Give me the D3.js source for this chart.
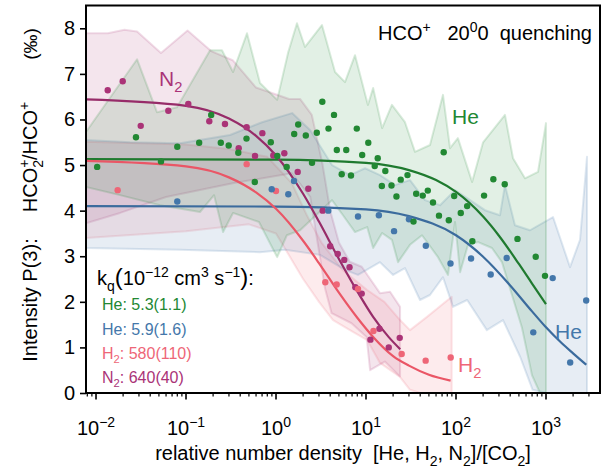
<!DOCTYPE html>
<html><head><meta charset="utf-8">
<script src="https://cdn.jsdelivr.net/npm/d3@7"></script>
<style>body{margin:0;background:#fff} text{font-family:"Liberation Sans",Arial,sans-serif;white-space:pre}</style>
</head><body><svg id="c" width="612" height="470"></svg>
<script>
// ---------- data ----------
const heGreenX = [0.0103,0.0278,0.0527,0.080,0.140,0.1905,0.2436,0.298,0.381,0.470,0.581,0.875,1.034,1.315,1.593,1.765,2.143,2.512,2.84,3.27,3.83,4.41,4.74,5.37,6.03,6.81,7.90,9.07,10.6,12.5,13.5,15.0,16.4,19.2,21.8,24.3,28.9,33.7,36.1,42.7,48.6,55.5,64.7,73.0,83.2,95.5,113,133,152,205,260,348,482,769,975];
const heGreenY = [4.96,5.61,5.08,5.40,5.49,6.10,5.49,5.43,5.27,5.58,4.63,5.50,5.20,4.96,5.68,5.89,5.65,5.05,5.71,6.39,5.80,6.10,5.33,4.80,5.33,4.77,5.80,5.22,5.49,4.98,5.15,4.54,4.87,4.55,4.31,4.68,4.78,3.76,4.37,4.33,4.44,4.18,3.89,5.28,3.79,4.32,3.95,4.10,3.33,4.33,4.69,4.58,3.38,2.99,2.57];
const heBlueX = [0.080,0.896,1.37,1.585,3.81,8.15,13.9,20.5,30.0,46.2,86.9,147,243,366,722,1187,1856,2797];
const heBlueY = [4.20,4.47,4.36,4.65,4.00,3.87,3.90,3.55,3.81,3.23,2.84,2.95,2.60,2.96,1.33,2.52,0.67,2.03];
const h2X = [0.0174,0.472,1.00,3.53,4.72,8.15,12.1,24.9,46.0,87.3];
const h2Y = [4.45,5.02,4.43,2.43,2.38,2.28,1.36,0.855,0.71,0.78];
const n2X = [0.01349,0.0198,0.0314,0.0636,0.106,0.1815,0.271,0.385,0.472,0.584,0.705,0.933,1.237,1.742,2.285,3.30,4.00,4.85,5.73,6.56,7.61,8.96,11.2,14.1,17.9,23.7];
const n2Y = [6.64,6.84,5.86,6.19,6.34,5.96,5.90,5.37,5.83,5.20,5.70,5.21,5.26,4.85,4.48,4.00,3.22,3.05,2.92,2.76,2.32,2.18,1.17,1.41,1.00,1.21];

// fitted curves [x, y]
const heGreenFit = [[0.00774,5.13],[1,5.12],[10,5.05],[30,4.89],[60,4.67],[100,4.41],[200,3.87],[300,3.45],[500,2.83],[700,2.40],[1000,1.95]];
const heBlueFit = [[0.00774,4.10],[1,4.09],[10,4.03],[30,3.88],[100,3.46],[200,2.99],[400,2.36],[700,1.79],[1000,1.44],[1500,1.09],[2000,0.87],[2800,0.62]];
const n2Fit = [[0.00774,6.44],[0.1,6.30],[0.3,6.02],[0.6,5.64],[1,5.21],[2,4.37],[3,3.76],[5,2.94],[8,2.23],[12,1.67],[18,1.22],[24,0.96]];
const h2Fit = [[0.00774,5.09],[0.1,4.97],[0.3,4.73],[0.6,4.40],[1,4.04],[2,3.34],[3,2.85],[5,2.20],[8,1.65],[12,1.23],[20,0.81],[30,0.60],[50,0.40],[87,0.27]];

// uncertainty bands [x, y]
const heGreenUpper = [[0.0077,5.72],[0.0286,7.32],[0.0476,6.16],[0.0794,6.27],[0.185,7.52],[0.251,7.52],[0.333,7.04],[0.476,7.89],[0.664,6.80],[1.03,6.43],[1.36,7.46],[1.71,8.11],[2.10,7.59],[3.24,8.07],[4.53,7.04],[5.84,6.82],[7.55,7.41],[10.5,6.32],[12.0,6.69],[15.1,5.81],[19.4,6.32],[27.1,5.94],[35.0,5.29],[51.4,5.44],[71.7,6.54],[85.8,5.37],[105,5.59],[151,4.63],[200,5.50],[350,6.10],[430,5.15],[584,4.71],[815,4.85],[1000,5.92]];
const heGreenLower = [[0.0077,4.52],[0.0185,4.34],[0.0514,4.12],[0.143,3.97],[0.205,4.34],[0.258,3.53],[0.333,3.95],[0.647,3.75],[1.03,2.98],[1.32,3.46],[1.85,3.57],[4.19,4.23],[5.55,3.90],[7.55,3.53],[10.3,3.64],[12.0,3.18],[15.1,3.51],[19.4,3.36],[22.7,2.87],[30.8,3.25],[41.9,3.46],[63.1,2.98],[81.5,2.59],[97.5,3.75],[111,2.65],[136,3.25],[176,3.31],[251,3.18],[324,2.87],[419,2.15],[541,1.43],[699,0.39],[858,0],[1000,0]];
const heBlueUpper = [[0.0077,5.55],[0.0239,5.50],[0.0858,5.48],[0.308,5.66],[0.699,5.94],[1.51,6.14],[2.39,5.77],[4.19,5.0],[6.64,4.78],[9.75,4.93],[14.3,4.78],[21.0,4.56],[30.8,4.67],[45.3,4.23],[66.4,4.12],[97.5,4.45],[143,4.23],[210,4.01],[308,3.90],[350,4.56],[452,3.68],[664,3.57],[1196,3.86],[1849,2.76],[2387,3.36],[2856,5.18]];
const heBlueLower = [[0.0077,3.18],[0.0858,3.14],[0.664,3.09],[1.26,3.14],[3.08,3.03],[5.84,2.70],[8.15,2.59],[14.3,2.87],[20.0,2.59],[27.1,2.74],[39.8,2.04],[51.4,2.15],[71.7,2.54],[92.6,1.89],[133,2.04],[220,1.38],[333,1.60],[517,0.79],[710,0.07],[1000,0],[2856,0]];
const h2Upper = [[0.0077,5.51],[0.1,5.45],[0.3,5.35],[0.8,5.18],[1.5,4.6],[2.2,3.9],[3.2,3.3],[5.5,2.7],[10.3,2.26],[16,2.0],[23.9,1.60],[30.8,1.38],[47.6,1.67],[89.6,2.11]];
const h2Lower = [[0.0077,3.40],[0.1,3.55],[0.5,3.70],[1.0,3.50],[2.0,2.50],[3.0,2.0],[4.3,1.60],[7.0,1.35],[10.3,1.16],[14.3,0.66],[23.9,0.35],[30.8,0.07],[40,0],[89.6,0]];
const n2Upper = [[0.0077,7.89],[0.0135,7.89],[0.0207,7.97],[0.0286,7.93],[0.0527,7.46],[0.104,7.95],[0.19,7.5],[0.33,7.3],[0.6,6.7],[1.4,6.45],[1.85,6.45],[2.5,6.1],[3.3,5.0],[4.0,4.0],[5.0,3.3],[6.6,2.88],[8.96,2.77],[14.3,2.19],[18.5,2.22],[23.9,1.89]];
const n2Lower = [[0.0077,3.72],[0.0185,3.95],[0.06,4.3],[0.33,4.6],[1.5,4.82],[2.4,4.3],[3.5,2.30],[4.15,1.75],[6.9,1.53],[10.15,1.23],[11.1,0.50],[16.2,0.69],[23.9,0.36]];

const xTickExp = ["\u22122","\u22121","0","1","2","3"];
const yTicks = [0,1,2,3,4,5,6,7,8];

// ---------- drawing ----------
const C = {green:"#228833", blue:"#4477AA", red:"#EE6677", purple:"#AA3377"};
const CL = {green:"#1f7a2f", blue:"#3b6b9d", red:"#ea5666", purple:"#972c69"};
const svg = d3.select("#c");
const L=86, R=600, T=5.5, B=393;
const x = d3.scaleLog().domain([0.00774, 3981]).range([L, R]);
const y = d3.scaleLinear().domain([0, 8.5]).range([B, T]);

svg.append("defs").append("clipPath").attr("id","clip")
  .append("rect").attr("x",L).attr("y",T).attr("width",R-L).attr("height",B-T);
const plot = svg.append("g").attr("clip-path","url(#clip)");

const lin = d3.line().x(d=>x(d[0])).y(d=>y(d[1]));
function band(up, lo, col){
  const pts = up.concat(lo.slice().reverse());
  plot.append("path").attr("d", lin(pts)+"Z")
    .attr("fill", col).attr("fill-opacity", 0.13)
    .attr("stroke", col).attr("stroke-opacity", 0.17).attr("stroke-width", 2).attr("stroke-linejoin","round");
}
band(n2Upper, n2Lower, C.purple);
band(h2Upper, h2Lower, C.red);
band(heBlueUpper, heBlueLower, C.blue);
band(heGreenUpper, heGreenLower, C.green);

const smooth = d3.line().x(d=>x(d[0])).y(d=>y(d[1])).curve(d3.curveMonotoneX);
[[heGreenFit,CL.green],[heBlueFit,CL.blue],[h2Fit,CL.red],[n2Fit,CL.purple]].forEach(([f,c])=>{
  plot.append("path").attr("d", smooth(f)).attr("fill","none").attr("stroke",c).attr("stroke-width",2.2);
});

function dots(xs, ys, col){
  plot.append("g").selectAll("circle").data(xs.map((v,i)=>[v,ys[i]])).join("circle")
    .attr("cx",d=>x(d[0])).attr("cy",d=>y(d[1])).attr("r",3.2).attr("fill",col);
}
dots(n2X, n2Y, C.purple);
dots(h2X, h2Y, C.red);
dots(heBlueX, heBlueY, C.blue);
dots(heGreenX, heGreenY, C.green);

// frame
svg.append("rect").attr("x",L).attr("y",T).attr("width",R-L).attr("height",B-T)
  .attr("fill","none").attr("stroke","#000").attr("stroke-width",2);

// y axis
const yAx = svg.append("g").attr("transform",`translate(${L},0)`)
  .call(d3.axisLeft(y).tickValues(yTicks).tickSize(6).tickSizeOuter(0).tickFormat(d3.format("d")));
yAx.select(".domain").remove();
yAx.selectAll("line").attr("stroke-width",1.6);
yAx.selectAll("text").attr("font-size",20).attr("fill","#000").attr("x",-11).attr("font-family","Liberation Sans, Arial, sans-serif");

// x axis
const majors = xTickExp.map(e=>Math.pow(10, +e.replace("\u2212","-")));
const minors = [];
for (let d=-3; d<=3; d++) for (let k=2;k<=9;k++){ const v=k*Math.pow(10,d); if (v>=0.00774 && v<=3981) minors.push(v); }
const xg = svg.append("g");
xg.selectAll("line.mn").data(minors).join("line").attr("class","mn")
  .attr("x1",d=>x(d)).attr("x2",d=>x(d)).attr("y1",B).attr("y2",B+3.5).attr("stroke","#000").attr("stroke-width",1.2);
xg.selectAll("line.mj").data(majors).join("line").attr("class","mj")
  .attr("x1",d=>x(d)).attr("x2",d=>x(d)).attr("y1",B).attr("y2",B+6.5).attr("stroke","#000").attr("stroke-width",1.6);

function rich(parent, px, py, parts, fs, opts={}){
  const t = parent.append("text").attr("x",px).attr("y",py).attr("font-size",fs)
    .attr("fill", opts.fill||"#000").attr("text-anchor", opts.anchor||"start");
  if (opts.transform) t.attr("transform", opts.transform);
  let cur = 0;
  parts.forEach(p=>{
    const [s,k,dx] = Array.isArray(p)?p:[p,"n",0];
    const target = k==="sup" ? -0.42*fs : k==="sub" ? 0.28*fs : 0;
    const ts = t.append("tspan").attr("dy", (target-cur).toFixed(2)).attr("font-size", k==="n"?fs:fs*0.7).text(s);
    if (dx) ts.attr("dx", dx);
    cur = target;
  });
  return t;
}
majors.forEach((v,i)=>{
  rich(svg, x(v), 435, ["10", [xTickExp[i],"sup"]], 20, {anchor:"middle"});
});

// axis labels
rich(svg, 343, 460, ["relative number density  [He, H", ["2","sub"], ", N", ["2","sub"], "]/[CO", ["2","sub"], "]"], 20, {anchor:"middle"});
rich(svg, 0, 0, ["Intensity P(3):"], 20, {anchor:"middle", transform:"translate(37,300) rotate(-90)"});
rich(svg, 0, 0, ["HCO", ["+","sup"], ["2","sub",-8.2], "/HCO", ["+","sup"]], 20, {anchor:"middle", transform:"translate(37,157) rotate(-90)"});
rich(svg, 0, 0, ["(\u2030)"], 19, {anchor:"middle", transform:"translate(37,44) rotate(-90)"});

// title
rich(svg, 592, 40, ["HCO", ["+","sup"], "   20", ["0","sup"], "0  quenching"], 20, {anchor:"end"});

// series labels
rich(svg, 159, 86, ["N", ["2","sub"]], 21, {fill:C.purple});
rich(svg, 452, 124, ["He"], 21, {fill:C.green});
rich(svg, 555, 339, ["He"], 21, {fill:C.blue});
rich(svg, 458, 372, ["H", ["2","sub"]], 21, {fill:C.red});

// rate constants
const kq = rich(svg, 97, 285, ["k", ["q","sub"]], 20);
kq.append("tspan").attr("dy", (-0.28*20).toFixed(2)).attr("font-size",24).text("(");
[["10","n"],["\u221212","sup"],[" cm","n"],["3","sup"],[" s","n"],["\u22121","sup"]].forEach(([s,k],i,a)=>{
  const prev = i===0 ? "n" : a[i-1][1];
  const cur = k==="sup" ? -8.4 : 0, pv = prev==="sup" ? -8.4 : 0;
  kq.append("tspan").attr("dy", cur-pv).attr("font-size", k==="sup"?14:20).text(s);
});
kq.append("tspan").attr("dy", 8.4).attr("font-size",24).text(")");
kq.append("tspan").attr("font-size",20).text(":");
rich(svg, 102, 310, ["He: 5.3(1.1)"], 16, {fill:C.green});
rich(svg, 102, 335, ["He: 5.9(1.6)"], 16, {fill:C.blue});
rich(svg, 102, 359, ["H", ["2","sub"], ": 580(110)"], 16, {fill:C.red});
rich(svg, 102, 383, ["N", ["2","sub"], ": 640(40)"], 16, {fill:C.purple});
</script></body></html>
